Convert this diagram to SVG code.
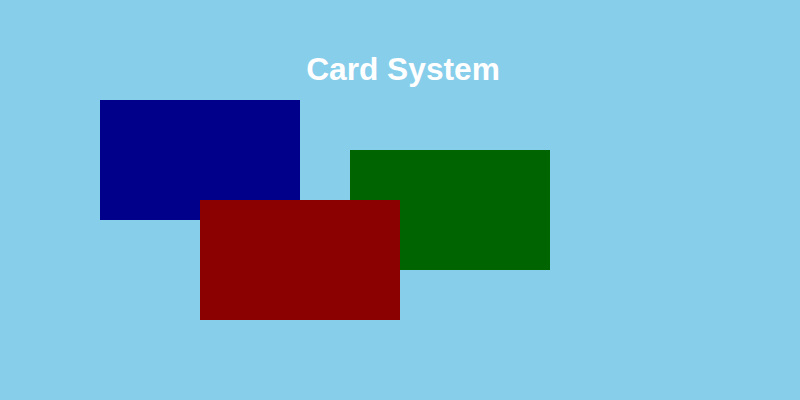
<svg xmlns="http://www.w3.org/2000/svg" width="800" height="400" viewBox="0 0 800 400">
<style>
.title{font-family:"Liberation Sans",Arial,sans-serif;font-size:31.7px;font-weight:bold;fill:#ffffff;text-anchor:middle}
</style>
<rect x="0" y="0" width="800" height="400" fill="#87CEEB"/>
<text class="title" x="403" y="80">Card System</text>
<g id="card-blue"><rect x="100" y="100" width="200" height="120" fill="#00008B"/></g>
<g id="card-green"><rect x="350" y="150" width="200" height="120" fill="#006400"/></g>
<g id="card-red"><rect x="200" y="200" width="200" height="120" fill="#8B0000"/></g>
<g id="connectors"></g>
</svg>
